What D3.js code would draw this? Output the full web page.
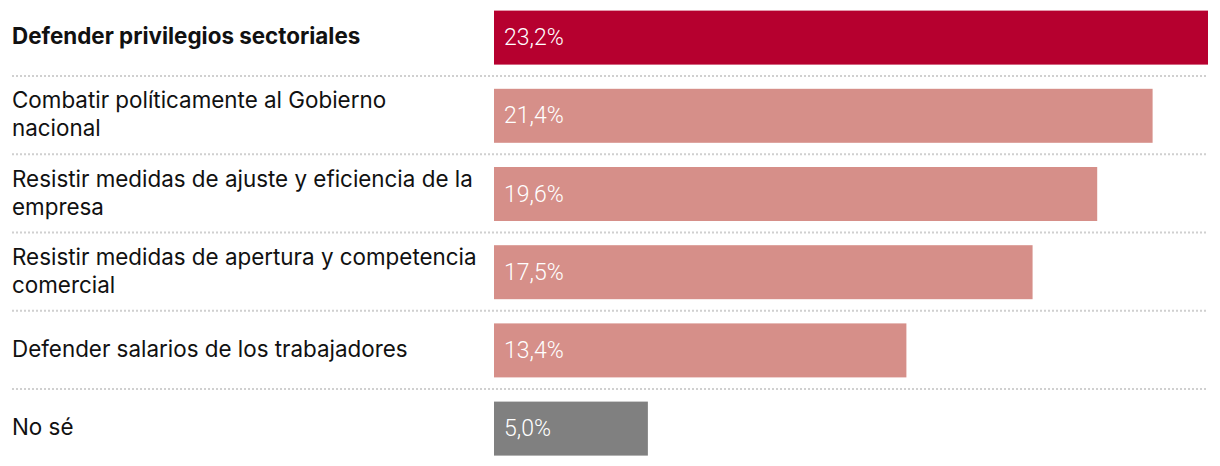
<!DOCTYPE html>
<html>
<head>
<meta charset="utf-8">
<script src="https://cdn.jsdelivr.net/npm/d3@7"></script>
<style>
  html, body { margin: 0; padding: 0; background: #fff; }
  svg { display: block; }
</style>
</head>
<body>
<svg id="chart" width="1220" height="466"></svg>
<script>
// ---- data ----
const categories = [
  ["Defender privilegios sectoriales"],
  ["Combatir políticamente al Gobierno", "nacional"],
  ["Resistir medidas de ajuste y eficiencia de la", "empresa"],
  ["Resistir medidas de apertura y competencia", "comercial"],
  ["Defender salarios de los trabajadores"],
  ["No sé"]
];
const values = [23.2, 21.4, 19.6, 17.5, 13.4, 5.0];
const valueLabels = ["23,2%", "21,4%", "19,6%", "17,5%", "13,4%", "5,0%"];
const highlight = [true, false, false, false, false, false];
const kind = ["top", "mid", "mid", "mid", "mid", "none"];

// ---- layout ----
const W = 1220, H = 466;
const barLeft = 494, barRight = 1208;
const labelX = 12;
const step = 78.2, firstTop = 10.6, barH = 54;
const colors = { top: "#b6002f", mid: "#d68f89", none: "#808080" };

const svg = d3.select("#chart");

const x = d3.scaleLinear().domain([0, d3.max(values)]).range([barLeft, barRight]);
const y = d3.scaleBand()
  .domain(d3.range(values.length))
  .range([firstTop, firstTop + step * (values.length - 1) + barH])
  .paddingInner((step - barH) / step)
  .paddingOuter(0);

const rows = svg.selectAll("g.row")
  .data(values.map((v, i) => ({ v, i })))
  .join("g").attr("class", "row");

// separators
svg.selectAll("line.sep")
  .data(d3.range(values.length - 1))
  .join("line").attr("class", "sep")
  .attr("x1", labelX).attr("x2", barRight)
  .attr("y1", i => y(i) + barH + 11.5)
  .attr("y2", i => y(i) + barH + 11.5)
  .attr("stroke", "#d0d0d0")
  .attr("stroke-width", 2)
  .attr("stroke-dasharray", "2,2");

// bars
rows.append("rect")
  .attr("x", x(0))
  .attr("y", d => y(d.i))
  .attr("width", d => x(d.v) - x(0))
  .attr("height", y.bandwidth())
  .attr("fill", d => colors[kind[d.i]]);

// value labels
rows.append("text")
  .attr("x", x(0) + 10)
  .attr("y", d => y(d.i) + barH / 2 + 7.5)
  .attr("fill", "#fff")
  .attr("font-family", "Roboto, sans-serif")
  .attr("font-weight", 300)
  .attr("font-size", 23)
  .text(d => valueLabels[d.i]);

// category labels
const lab = rows.append("text")
  .attr("font-family", "Inter, sans-serif")
  .attr("font-size", 22.4)
  .attr("fill", "#111")
  .attr("font-weight", d => highlight[d.i] ? 700 : 400);

lab.selectAll("tspan")
  .data(d => categories[d.i].map((t, k, arr) => ({ t, k, n: arr.length, i: d.i })))
  .join("tspan")
  .attr("x", labelX)
  .attr("y", d => y(d.i) + barH / 2 + 6.5 + (d.k - (d.n - 1) / 2) * 28)
  .text(d => d.t);
</script>
</body>
</html>
